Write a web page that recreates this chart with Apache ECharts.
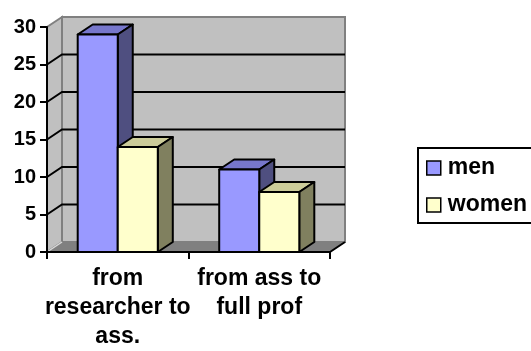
<!DOCTYPE html>
<html><head><meta charset="utf-8">
<script src="https://cdn.jsdelivr.net/npm/echarts@6/dist/echarts.min.js"></script>
<style>html,body{margin:0;padding:0;background:#fff;overflow:hidden}#c{width:531px;height:351px}</style>
</head><body><div id="c"></div>
<script>
const categories = ['from\nresearcher to\nass.', 'from ass to\nfull prof'];
const seriesNames = ['men', 'women'];
const menValues = [29, 11];
const womenValues = [14, 8];
const yTicks = [0, 5, 10, 15, 20, 25, 30];

const DX = 15, DY = -10;
const BAR_FRAC = 0.283;
const FONT = '"Liberation Sans", Arial, sans-serif';
const colors = {
  men: {front: '#9999ff', top: '#7777cc', side: '#4f4f80'},
  women: {front: '#ffffcc', top: '#cccc99', side: '#80805f'}
};

function barRender(idx, col) {
  return function (params, api) {
    const cat = api.value(0), val = api.value(1);
    const band = api.size([1, 0])[0];
    const bw = band * BAR_FRAC;
    const base = api.coord([cat, 0]);
    const top = api.coord([cat, val]);
    const x0 = base[0] - bw + idx * bw;
    const x1 = x0 + bw;
    const yb = base[1], yt = top[1];
    const ls = {stroke: '#000', lineWidth: 2, lineJoin: 'round'};
    return {type: 'group', children: [
      {type: 'polygon', shape: {points: [[x0, yt], [x1, yt], [x1 + DX, yt + DY], [x0 + DX, yt + DY]]}, style: Object.assign({fill: col.top}, ls)},
      {type: 'polygon', shape: {points: [[x1, yt], [x1 + DX, yt + DY], [x1 + DX, yb + DY], [x1, yb]]}, style: Object.assign({fill: col.side}, ls)},
      {type: 'rect', shape: {x: x0, y: yt, width: bw, height: yb - yt}, style: Object.assign({fill: col.front}, ls)}
    ]};
  };
}

function wallRender(params, api) {
  const cs = params.coordSys;
  const x = cs.x, w = cs.width;
  const yb = api.coord([0, yTicks[0]])[1];
  const yt = api.coord([0, yTicks[yTicks.length - 1]])[1];
  const ch = [];
  ch.push({type: 'polygon', shape: {points: [[x, yb], [x, yt], [x + DX, yt + DY], [x + DX, yb + DY]]}, style: {fill: '#c0c0c0', stroke: '#808080', lineWidth: 2}});
  ch.push({type: 'rect', shape: {x: x + DX, y: yt + DY, width: w, height: yb - yt}, style: {fill: '#c0c0c0', stroke: '#808080', lineWidth: 2}});
  ch.push({type: 'polygon', shape: {points: [[x, yb], [x + w, yb], [x + w + DX, yb + DY], [x + DX, yb + DY]]}, style: {fill: '#808080', stroke: '#808080', lineWidth: 1}});
  ch.push({type: 'polyline', shape: {points: [[x + w, yb], [x + w + DX, yb + DY]]}, style: {stroke: '#000', lineWidth: 2}});
  ch.push({type: 'polyline', shape: {points: [[x, yb], [x + DX, yb + DY]]}, style: {stroke: '#d8d8d8', lineWidth: 1.5}});
  yTicks.slice(1, -1).forEach(function (v) {
    const y = api.coord([0, v])[1];
    ch.push({type: 'polyline', shape: {points: [[x, y], [x + DX, y + DY], [x + w + DX, y + DY]]}, style: {stroke: '#000', lineWidth: 2, fill: null}});
  });
  return {type: 'group', children: ch};
}

const chart = echarts.init(document.getElementById('c'), null, {renderer: 'canvas'});
chart.setOption({
  animation: false,
  backgroundColor: '#fff',
  grid: {left: 47, right: 201, top: 27, bottom: 94},
  graphic: [
    {type: 'polyline', z: 100, silent: true, shape: {points: [[560, 148], [418, 148], [418, 223], [560, 223]]}, style: {fill: null, stroke: '#000', lineWidth: 2}}
  ],
  xAxis: {
    type: 'category', data: categories, boundaryGap: true, z: 10,
    axisLine: {lineStyle: {color: '#000', width: 2}},
    axisTick: {show: true, length: 7, lineStyle: {color: '#000', width: 2}},
    axisLabel: {interval: 0, margin: 12, color: '#000', fontFamily: FONT, fontWeight: 'bold', fontSize: 23, lineHeight: 29, align: 'center'},
    splitLine: {show: false}
  },
  yAxis: {
    type: 'value', min: 0, max: 30, interval: 5, z: 10,
    axisLine: {show: true, lineStyle: {color: '#000', width: 2}},
    axisTick: {show: true, length: 7, lineStyle: {color: '#000', width: 2}},
    axisLabel: {margin: 11, color: '#000', fontFamily: FONT, fontWeight: 'bold', fontSize: 20,
      formatter: function (v) { return yTicks.indexOf(v) >= 0 ? String(v) : ''; }},
    splitLine: {show: false}
  },
  legend: {
    orient: 'vertical', left: 418, top: 148,
    padding: [8, 4, 6, 8], itemGap: 13, itemWidth: 14, itemHeight: 14,
    borderWidth: 0, icon: 'rect',
    textStyle: {fontFamily: FONT, fontWeight: 'bold', fontSize: 23, color: '#000', lineHeight: 24, padding: [0, 0, 0, 2]},
    data: [
      {name: seriesNames[0], itemStyle: {color: colors.men.front, borderColor: '#000', borderWidth: 1.5}},
      {name: seriesNames[1], itemStyle: {color: colors.women.front, borderColor: '#000', borderWidth: 1.5}}
    ]
  },
  series: [
    {type: 'custom', name: '_walls', z: 1, silent: true, renderItem: wallRender, data: [[0, 0]]},
    {type: 'custom', name: seriesNames[0], z: 3, itemStyle: {color: colors.men.front}, renderItem: barRender(0, colors.men),
      data: menValues.map(function (v, i) { return [i, v]; })},
    {type: 'custom', name: seriesNames[1], z: 3, itemStyle: {color: colors.women.front}, renderItem: barRender(1, colors.women),
      data: womenValues.map(function (v, i) { return [i, v]; })}
  ]
});
</script>
</body></html>
